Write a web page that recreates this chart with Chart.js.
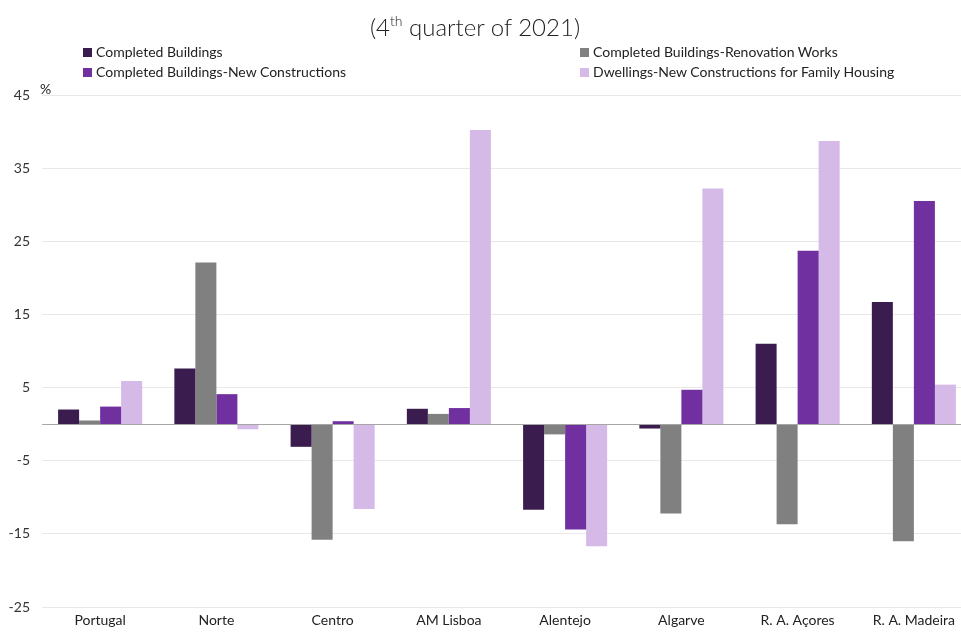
<!DOCTYPE html>
<html>
<head>
<meta charset="utf-8">
<script src="https://cdn.jsdelivr.net/npm/chart.js@4.4.1/dist/chart.umd.min.js"></script>
<style>
  html, body { margin: 0; padding: 0; background: #ffffff; overflow: hidden; }
  #wrap { position: relative; width: 961px; height: 633px; overflow: hidden; }
  #c { position: absolute; left: 0; top: 0; }
  #title { position: absolute; left: 0; width: 950px; top: 12px; text-align: center;
           font-family: Lato, "Open Sans", sans-serif; font-weight: 300; font-size: 24px; color: #222; }
  #title sup { font-size: 14px; vertical-align: 10px; line-height: 0; }
  .leg { position: absolute; font-family: Lato, sans-serif; font-size: 14px; color: #222; white-space: nowrap; }
  .leg span.sw { display: inline-block; width: 9px; height: 9px; margin-right: 4px; vertical-align: 0px; }
  #pct { position: absolute; left: 40px; top: 80px; font-family: Lato, sans-serif; font-size: 14px; color: #222; }
</style>
</head>
<body>
<div id="wrap">
  <canvas id="c" width="972" height="633"></canvas>
  <div id="title">(4<sup>th</sup> quarter of 2021)</div>
  <div id="pct">%</div>
  <div id="legend"></div>
</div>
<script>
const categories = ["Portugal", "Norte", "Centro", "AM Lisboa", "Alentejo", "Algarve", "R. A. Açores", "R. A. Madeira"];
const seriesNames = ["Completed Buildings", "Completed Buildings-Renovation Works", "Completed Buildings-New Constructions", "Dwellings-New Constructions for Family Housing"];
const completedBuildings   = [2.0, 7.6, -3.1, 2.1, -11.7, -0.6, 11.0, 16.7];
const renovationWorks      = [0.5, 22.1, -15.8, 1.4, -1.4, -12.2, -13.7, -16.0];
const newConstructions     = [2.4, 4.1, 0.4, 2.2, -14.4, 4.7, 23.7, 30.5];
const dwellingsNewFamily   = [5.9, -0.7, -11.6, 40.2, -16.7, 32.2, 38.7, 5.4];
const yTicks = [-25, -15, -5, 5, 15, 25, 35, 45];
const colors = ["#3b1c4e", "#808080", "#7030a0", "#d5b9e6"];

const seriesValues = [completedBuildings, renovationWorks, newConstructions, dwellingsNewFamily];

// HTML legend (2 columns, row-major)
const legPos = [[83, 43], [580, 43], [83, 63], [580, 63]];
const legEl = document.getElementById('legend');
seriesNames.forEach((n, i) => {
  const d = document.createElement('div');
  d.className = 'leg';
  d.style.left = legPos[i][0] + 'px';
  d.style.top = legPos[i][1] + 'px';
  d.innerHTML = '<span class="sw" style="background:' + colors[i] + '"></span>' + n;
  legEl.appendChild(d);
});

const zeroLine = {
  id: 'zeroLine',
  afterDatasetsDraw(chart) {
    const y = chart.scales.y.getPixelForValue(0);
    const a = chart.chartArea;
    const ctx = chart.ctx;
    ctx.save();
    ctx.strokeStyle = '#a6a6a6';
    ctx.lineWidth = 1;
    ctx.beginPath();
    ctx.moveTo(a.left, Math.round(y) + 0.5);
    ctx.lineTo(a.right, Math.round(y) + 0.5);
    ctx.stroke();
    ctx.restore();
  }
};

new Chart(document.getElementById('c'), {
  type: 'bar',
  data: {
    labels: categories,
    datasets: seriesNames.map((n, i) => ({
      label: n,
      data: seriesValues[i],
      backgroundColor: colors[i],
      borderWidth: 0,
      categoryPercentage: 0.723,
      barPercentage: 1.0
    }))
  },
  options: {
    responsive: false,
    animation: false,
    layout: { padding: { top: 95, right: 0, left: 0, bottom: 0 } },
    plugins: { legend: { display: false }, title: { display: false }, tooltip: { enabled: false } },
    scales: {
      x: {
        grid: { display: false, drawTicks: false },
        border: { display: false },
        ticks: { color: '#222', font: { family: 'Lato', size: 14 }, padding: 5, maxRotation: 0 },
        afterFit(s) { s.height = 26; }
      },
      y: {
        min: -25, max: 45,
        afterBuildTicks(s) { s.ticks = yTicks.map(v => ({ value: v })); },
        grid: { color: '#e8e8e8', drawTicks: false },
        border: { display: false },
        ticks: { color: '#333', font: { family: 'Lato', size: 14 }, padding: 12 },
        afterFit(s) { s.width = 42; }
      }
    }
  },
  plugins: [zeroLine]
});
</script>
</body>
</html>
